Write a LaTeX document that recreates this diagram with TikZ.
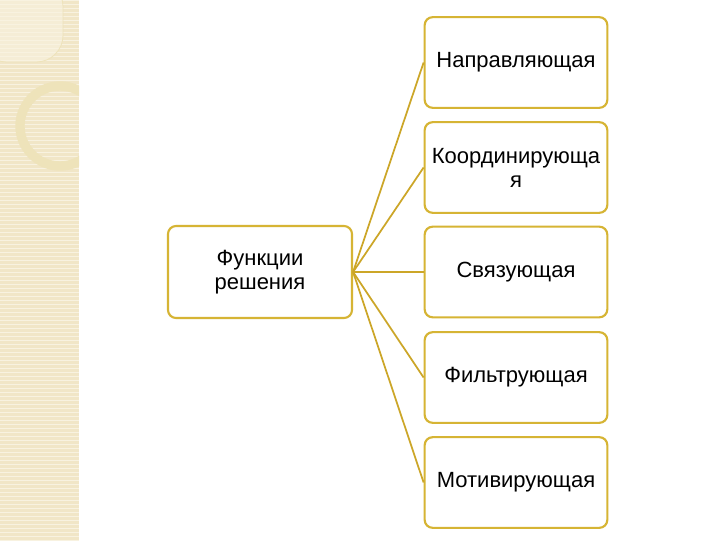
\documentclass[tikz,border=0pt]{standalone}
\usepackage{fontspec}
\setmainfont{Liberation Sans}
\definecolor{stripe}{RGB}{241,230,199}
\definecolor{stripeline}{RGB}{248,242,224}
\definecolor{ringc}{RGB}{238,227,186}
\definecolor{goldline}{RGB}{204,166,40}
\definecolor{goldbox}{RGB}{214,180,52}
\tikzset{
  px/.style={x=0.75pt,y=-0.75pt},
  fbox/.style={draw=goldbox, line width=1.6pt, rounded corners=6pt, fill=white,
    minimum width=137pt, minimum height=68pt, align=center, inner sep=2pt,
    font=\fontsize{16.5pt}{18pt}\selectfont, text width=130pt},
  conn/.style={draw=goldline, line width=1.3pt}
}
\begin{document}
\begin{tikzpicture}[px]
\useasboundingbox (0,0) rectangle (720,540);
\fill[white] (0,0) rectangle (720,540);
% decorative stripe
\fill[stripe] (0,0) rectangle (79,540);
\foreach \y in {0,4,...,540} {
  \draw[stripeline, line width=0.6pt] (0,\y) -- (79,\y);
}
\begin{scope}
\clip (0,0) rectangle (79,540);
\fill[stripeline, opacity=0.6, rounded corners=20pt] (-20,-20) rectangle (63,62);
\draw[ringc, line width=0.6pt, rounded corners=20pt] (-20,-20) rectangle (63,62);
\draw[ringc, line width=7pt] (60,126) circle (40);
\end{scope}
% nodes
\node[fbox, minimum width=138pt, minimum height=69pt] (f) at (260,272) {Функции\\решения};
\node[fbox] (a) at (516,62.5) {Направляющая};
\node[fbox] (b) at (516,167.5) {Координирующа\\я};
\node[fbox] (c) at (516,272) {Связующая};
\node[fbox] (d) at (516,377.5) {Фильтрующая};
\node[fbox] (e) at (516,482.5) {Мотивирующая};
% connectors
\foreach \t in {a,b,c,d,e} {
  \draw[conn] (f.east) -- (\t.west);
}
\end{tikzpicture}
\end{document}
